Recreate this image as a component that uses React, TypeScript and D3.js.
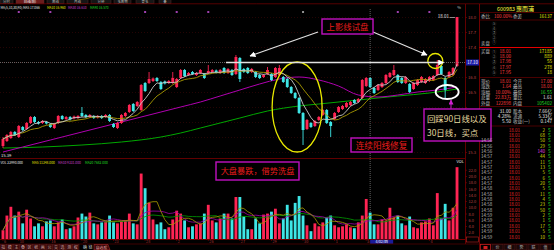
import React from "react";
import * as d3 from "d3";

const candleOpen = [15.43,15.53,15.59,15.71,15.61,15.81,15.77,15.89,16.01,15.91,
15.89,15.91,15.87,15.79,15.89,16.03,15.97,16.01,15.98,15.99,
16.09,16.05,16.01,16.03,16.00,16.03,16.01,16.05,15.87,15.79,
15.89,16.03,16.11,16.27,16.23,16.15,16.69,16.69,16.73,16.79,
16.71,16.72,16.69,16.69,16.61,16.79,16.95,16.85,16.91,16.85,
16.89,16.87,16.89,16.91,16.94,16.89,16.99,16.89,16.95,16.87,
17.19,16.97,16.99,16.91,16.91,16.85,16.81,16.87,16.87,16.81,
16.85,16.81,16.77,16.61,16.49,16.39,16.09,15.77,15.89,15.83,
15.95,16.05,16.15,15.91,15.97,16.11,16.17,16.21,16.25,16.35,
16.31,16.39,16.63,16.79,16.59,16.55,16.61,16.69,16.81,16.85,
16.85,16.79,16.69,16.67,16.57,16.65,16.71,16.69,16.73,16.75,
16.85,17.03,16.79,16.81,16.85,17.03];
const candleHigh = [15.61,15.67,15.73,15.73,15.85,15.83,15.91,16.03,16.03,15.93,
15.95,15.93,15.89,15.89,16.05,16.05,16.03,16.03,16.04,16.05,
16.21,16.07,16.07,16.05,16.05,16.05,16.07,16.07,15.89,15.91,
16.07,16.11,16.27,16.29,16.33,16.67,16.71,16.91,16.80,16.81,
16.73,16.74,16.75,16.91,16.79,16.97,16.97,16.91,16.93,16.91,
16.97,16.89,17.05,16.97,16.96,16.97,17.01,16.99,16.97,17.25,
17.21,16.99,17.01,16.99,16.93,16.87,16.87,17.01,16.89,17.01,
17.05,16.83,16.79,16.63,16.51,16.41,16.11,15.97,15.91,15.95,
16.03,16.17,16.17,15.93,16.11,16.23,16.25,16.31,16.33,16.37,
16.39,16.77,16.81,16.81,16.61,16.67,16.71,16.87,16.91,17.05,
16.87,16.81,16.83,16.69,16.71,16.77,16.83,16.79,16.83,16.85,
17.15,17.05,16.81,16.93,17.01,18.01];
const candleLow = [15.39,15.51,15.57,15.63,15.59,15.73,15.75,15.87,15.89,15.86,
15.87,15.86,15.79,15.77,15.87,15.95,15.95,15.94,15.96,15.97,
16.01,15.99,15.99,15.97,15.98,15.97,15.99,15.91,15.79,15.77,
15.87,16.01,16.09,16.11,16.21,16.13,16.51,16.67,16.71,16.71,
16.55,16.66,16.67,16.67,16.59,16.77,16.81,16.83,16.85,16.83,
16.87,16.77,16.87,16.89,16.88,16.87,16.87,16.87,16.83,16.85,
16.71,16.89,16.87,16.89,16.79,16.77,16.79,16.85,16.73,16.79,
16.83,16.69,16.59,16.47,16.37,16.07,15.45,15.75,15.79,15.81,
15.93,16.03,15.87,15.61,15.95,16.09,16.15,16.19,16.23,16.27,
16.29,16.37,16.61,16.59,16.47,16.53,16.59,16.67,16.79,16.83,
16.69,16.67,16.67,16.49,16.55,16.63,16.69,16.67,16.71,16.73,
16.83,16.85,16.39,16.79,16.83,17.01];
const candleClose = [15.57,15.65,15.71,15.65,15.83,15.75,15.89,16.01,15.91,15.88,
15.93,15.88,15.81,15.87,16.03,15.97,16.01,15.96,16.02,16.03,
16.03,16.01,16.05,15.99,16.03,15.99,16.05,15.93,15.81,15.89,
16.05,16.09,16.25,16.13,16.31,16.65,16.53,16.77,16.78,16.73,
16.57,16.68,16.73,16.79,16.77,16.95,16.83,16.89,16.87,16.89,
16.95,16.79,16.93,16.95,16.90,16.95,16.89,16.97,16.85,17.21,
16.77,16.91,16.89,16.97,16.81,16.79,16.85,16.95,16.75,16.99,
16.99,16.71,16.61,16.49,16.39,16.09,15.75,15.95,15.81,15.93,
16.01,16.15,15.89,15.83,16.09,16.21,16.23,16.29,16.31,16.29,
16.37,16.75,16.79,16.61,16.49,16.65,16.69,16.85,16.89,16.95,
16.71,16.69,16.81,16.51,16.69,16.75,16.81,16.77,16.81,16.83,
17.05,16.87,16.55,16.91,16.99,18.01];
const volumes = [2810,7500,10310,7500,8750,5000,9380,6560,4060,5000,
4060,5630,5940,4060,5310,6250,3130,3440,4060,6880,
8130,7190,8440,5000,4690,5310,5630,7500,5310,5000,
5630,5940,8130,5000,4690,20940,16250,11560,6250,4690,
5310,3130,3750,6250,9060,8130,5940,3750,4060,4690,
5000,8130,10940,5940,5310,6560,8130,8130,6560,13440,
13440,7190,3130,3130,6560,5000,7810,8130,8750,9690,
5000,6560,10940,5940,11560,13750,7500,4380,2500,5000,
4060,5310,6880,7500,4380,3750,4060,4690,3750,3440,
5310,7500,12810,8440,4690,4690,6250,5940,10000,6880,
7500,5000,4380,7190,3750,3440,5310,5630,6560,4380,
14690,6560,11250,5940,10000,22990];

const ma30Index = [0,5,12,20,30,40,45,50,55,60,65,70,75,80,85,90,95,100,105,110,115];
const ma30Value = [15.31,15.41,15.55,15.71,15.91,16.11,16.21,16.31,16.43,16.55,16.67,16.77,16.81,16.75,16.63,16.45,16.41,16.45,16.51,16.55,16.61];
const ma90Index = [0,10,20,30,40,45,50,55,60,67,75,80,90,100,108,115];
const ma90Value = [15.39,15.41,15.45,15.51,15.61,15.69,15.79,15.89,15.99,16.13,16.23,16.27,16.35,16.43,16.49,16.57];

const priceTicks = [15.3,15.6,15.9,16.2,16.5,16.8,17.1,17.4,17.7,18.0];
const volTicks = [2000,4000,6000,8000,10000,12000,14000,16000,18000,20000,22000];
const dateIndex = [0,4,12,20,28,36,44,52,60,68,76,84,92,108];
const dateLabels = ["6","10","16","20","23","28","2","26","27","29","30","1","5","4"];
const markerIndex = [4,12,36,44,52,76,100,108];
const cursorIndex = 93;
const cursorPrice = 17.10;
const cursorDate = "4/02/四";

const topTabs = ["分时","日线(前)","周线","月线","分钟","多周期","更多","叠"];
const bottomTabs = ["指","模","主","叠","区","统","画","公","交","选","测","权"];

const buyPrices = ["18.01","18.00","17.98","17.97","17.95"];
const buyVols = ["17185","889","55","278","18"];
const statLabelsA = ["现价","涨跌","涨幅","总量","外盘"];
const statValuesA = ["18.01","1.64","10.00%","22.83万","122898"];
const statLabelsB = ["今开","最高","最低","量比","内盘"];
const statValuesB = ["17.00","18.01","16.55","1.61","105402"];
const infoValuesA = ["31.00","4.28%","5.50"];
const infoLabelsB = ["股本","流通","收益(一)"];
const infoValuesB = ["7.66亿","5.33亿","0.147"];
const tickTimes = ["14:56","14:56","14:56","14:56","14:56","14:57","14:57","14:57","14:57","14:57","14:57","14:58","14:58","14:58","14:58","14:58","14:59","14:59","14:59","14:59","14:59"];
const tickVols = [2,68,50,29,140,44,11,13,5,6,20,5,11,4,23,50,2,1,17,5,10];
const tickPrice = "18.01";

const FONT = "'Noto Sans CJK SC','Noto Sans',sans-serif";
const UP = "#ff2453";
const DOWN = "#3ee6e6";
const RED = "#ff3c3c";
const GRAY = "#bdbdbd";
const YEL = "#e6e600";
const GRN = "#22dd22";
const WHT = "#e8e8e8";

function movingAvg(arr: number[], n: number) {
  return arr.map((_, i) => d3.mean(arr.slice(Math.max(0, i - n + 1), i + 1)) as number);
}

function T(props: any) {
  const { x, y, c, s = 4.8, a = "start", children, w } = props;
  return (
    <text x={x} y={y} fill={c} fontSize={s} textAnchor={a} fontFamily={FONT} fontWeight={w}>
      {children}
    </text>
  );
}

export default function App() {
  const N = candleClose.length;
  const x = d3.scaleBand<number>().domain(d3.range(N)).range([1, 459]).paddingInner(0.28).paddingOuter(0.14);
  const bw = x.bandwidth();
  const cx = (i: number) => (x(i) as number) + bw / 2;
  const xAt = (i: number) => 1 + x.step() * (i + 0.5);
  const y = d3.scaleLinear().domain([15.3, 18.0]).range([152.5, 17.5]);
  const yv = d3.scaleLinear().domain([0, 24000]).range([239, 164]);

  const isUp = candleClose.map((c, i) => c >= candleOpen[i]);
  const ma5 = movingAvg(candleClose, 5);
  const ma10 = movingAvg(candleClose, 10);
  const vma5 = movingAvg(volumes, 5);
  const vma10 = movingAvg(volumes, 10);
  const vma20 = movingAvg(volumes, 20);

  const priceLine = d3.line<number>().x((_, i) => cx(i)).y((v) => y(v));
  const volLine = d3.line<number>().x((_, i) => cx(i)).y((v) => yv(v));
  const sampleLine = (idx: number[]) =>
    d3.line<number>().x((_, k) => cx(idx[k])).y((v) => y(v)).curve(d3.curveMonotoneX);

  const fmt3 = d3.format(".3f");
  const crossY = y(cursorPrice);
  const hiIdx = d3.maxIndex(candleHigh);
  const loIdx = d3.minIndex(candleLow);

  const circled = ["①", "②", "③", "④", "⑤"];
  const boxTop = 109, boxBottom = 141;
  const shownPriceTicks = priceTicks.filter((t) => {
    const yy = y(t);
    return Math.abs(yy - crossY) > 5 && !(yy > boxTop - 3 && yy < boxBottom + 3);
  });

  return (
    <svg width={554} height={250} style={{ position: "absolute", left: 0, top: 0, display: "block" }}>
      <defs>
        <clipPath id="pc"><rect x={0} y={9} width={465} height={148} /></clipPath>
        <clipPath id="vc"><rect x={0} y={164} width={465} height={75} /></clipPath>
        <marker id="aw" viewBox="0 0 10 10" refX="9" refY="5" markerWidth="6" markerHeight="6" orient="auto" markerUnits="userSpaceOnUse">
          <path d="M0,0L10,5L0,10z" fill="#ffffff" />
        </marker>
        <marker id="ap" viewBox="0 0 10 10" refX="9" refY="5" markerWidth="5" markerHeight="5" orient="auto" markerUnits="userSpaceOnUse">
          <path d="M0,0L10,5L0,10z" fill="#d020d0" />
        </marker>
      </defs>
      <rect x={0} y={0} width={554} height={250} fill="#000" />

      {/* top tabs */}
      {topTabs.map((t, k) => {
        const xs = [0, 16, 47, 67, 91, 114, 136, 159];
        const ws = [13, 28, 17, 21, 20, 17, 18, 12];
        return (
          <g key={"tt" + k}>
            <rect x={xs[k]} y={-3} width={ws[k]} height={6.5} fill={k === 1 ? "#6b1c1c" : "#161616"} stroke="#5a2a2a" strokeWidth={0.5} />
            <T x={xs[k] + ws[k] / 2} y={3.2} c={k === 1 ? "#ffffff" : "#bbbbbb"} s={3.4} a="middle">{t}</T>
          </g>
        );
      })}
      <line x1={0} x2={554} y1={3.8} y2={3.8} stroke="#7a0000" strokeWidth={0.7} />

      {/* MA header */}
      <T x={0.5} y={8.6} c={WHT} s={3.2}>{"MA(5,10,30,90) MA5 " + fmt3(ma5[N - 1])}</T>
      <T x={47} y={8.6} c={YEL} s={3.2}>{"MA10 " + fmt3(ma10[N - 1])}</T>
      <T x={68} y={8.6} c="#d040d0" s={3.2}>{"MA30 " + fmt3(ma30Value[ma30Value.length - 1])}</T>
      <T x={90} y={8.6} c={GRN} s={3.2}>{"MA90 " + fmt3(ma90Value[ma90Value.length - 1])}</T>
      <T x={461} y={8.6} c={GRAY} s={4} a="end">%</T>

      {/* grid */}
      {priceTicks.map((t) => (
        <line key={"g" + t} x1={0} x2={465} y1={y(t)} y2={y(t)} stroke="#3e0707" strokeWidth={0.6} strokeDasharray="1 2" />
      ))}

      {/* event markers */}
      {markerIndex.map((i, k) => (
        <rect key={"m" + k} x={cx(i) - 1} y={11} width={2} height={2} fill={i === 76 ? "#909090" : "#a040b0"} />
      ))}

      {/* price panel */}
      <g clipPath="url(#pc)">
        <path d={sampleLine(ma90Index)(ma90Value) || ""} fill="none" stroke="#00a800" strokeWidth={1} />
        <path d={sampleLine(ma30Index)(ma30Value) || ""} fill="none" stroke="#b000b0" strokeWidth={1} />
        {candleClose.map((c, i) => {
          const o = candleOpen[i];
          const col = isUp[i] ? UP : DOWN;
          const top = y(Math.max(o, c));
          const h = Math.max(1, y(Math.min(o, c)) - top);
          return (
            <g key={"c" + i}>
              <line x1={cx(i)} x2={cx(i)} y1={y(candleHigh[i])} y2={y(candleLow[i])} stroke={col} strokeWidth={0.9} />
              <rect x={x(i)} y={top} width={bw} height={h} fill={col} />
            </g>
          );
        })}
        <path d={priceLine(ma10) || ""} fill="none" stroke="#a89a00" strokeWidth={0.9} />
        <path d={priceLine(ma5) || ""} fill="none" stroke="#c8c8c8" strokeWidth={0.9} />
      </g>

      {/* high / low labels */}
      <T x={cx(hiIdx) - 8} y={17.8} c={WHT} s={4.5} a="end">{candleHigh[hiIdx].toFixed(2)}</T>
      <line x1={cx(hiIdx) - 7.5} x2={cx(hiIdx) - 2} y1={y(candleHigh[hiIdx]) + 0.5} y2={y(candleHigh[hiIdx]) + 0.5} stroke={WHT} strokeWidth={0.6} />
      <T x={cx(loIdx) - 2} y={156.5} c={WHT} s={4.2}>{candleLow[loIdx].toFixed(2)}</T>

      {/* cursor */}
      <line x1={0} x2={465} y1={crossY} y2={crossY} stroke="#8a8a8a" strokeWidth={0.7} strokeDasharray="1 1" />
      <line x1={cx(cursorIndex)} x2={cx(cursorIndex)} y1={9} y2={239} stroke="#8a8a8a" strokeWidth={0.7} strokeDasharray="1 1" />

      {/* separator */}
      <line x1={0} x2={465} y1={158.5} y2={158.5} stroke="#7a0000" strokeWidth={0.8} />

      {/* volume header */}
      <T x={0.5} y={163.5} c={WHT} s={3.3}>{"VOL " + d3.format(".3f")(volumes[N - 1])}</T>
      <T x={32} y={163.5} c={YEL} s={3.3}>{"MA5 " + d3.format(".3f")(vma5[N - 1])}</T>
      <T x={58} y={163.5} c="#d040d0" s={3.3}>{"MA10 " + d3.format(".3f")(vma10[N - 1])}</T>
      <T x={85} y={163.5} c={GRN} s={3.3}>{"MA20 " + d3.format(".3f")(vma20[N - 1])}</T>
      <T x={464} y={163} c={WHT} s={4} a="end">VOL</T>

      {/* volume bars */}
      <g clipPath="url(#vc)">
        {volumes.map((v, i) => (
          <rect key={"v" + i} x={x(i)} y={yv(v)} width={bw} height={yv(0) - yv(v)} fill={isUp[i] ? UP : DOWN} />
        ))}
        <path d={volLine(vma20) || ""} fill="none" stroke="#00a000" strokeWidth={0.8} />
        <path d={volLine(vma10) || ""} fill="none" stroke="#a000a8" strokeWidth={0.8} />
        <path d={volLine(vma5) || ""} fill="none" stroke="#a89a00" strokeWidth={0.8} />
      </g>

      {/* date axis */}
      <line x1={0} x2={465} y1={239.5} y2={239.5} stroke="#8a0000" strokeWidth={0.8} />
      {dateIndex.map((i, k) => (
        <g key={"d" + k}>
          <line x1={cx(i)} x2={cx(i)} y1={239.5} y2={241} stroke="#8a0000" strokeWidth={0.6} />
          <T x={cx(i) + 1} y={243.2} c="#a83030" s={3.8}>{dateLabels[k]}</T>
        </g>
      ))}
      <rect x={cx(cursorIndex)} y={239.8} width={23} height={4} fill="#1a1a9a" />
      <T x={cx(cursorIndex) + 11.5} y={243.2} c="#ffffff" s={3.6} a="middle">{cursorDate}</T>

      {/* right axis */}
      <line x1={465.5} x2={465.5} y1={4} y2={244} stroke="#7a0000" strokeWidth={0.8} />
      <line x1={479.5} x2={479.5} y1={4} y2={250} stroke="#8a0000" strokeWidth={0.8} />
      {priceTicks.map((t) => (
        <line key={"ptl" + t} x1={465.5} x2={467} y1={y(t)} y2={y(t)} stroke="#8a0000" strokeWidth={0.6} />
      ))}
      {shownPriceTicks.map((t) => (
        <T key={"pt" + t} x={468} y={y(t) + 1.5} c="#b84444" s={4.2}>{t.toFixed(1)}</T>
      ))}
      {volTicks.map((t) => (
        <g key={"vt" + t}>
          <line x1={465.5} x2={467} y1={yv(t)} y2={yv(t)} stroke="#8a0000" strokeWidth={0.6} />
          <T x={468.5} y={yv(t) + 1.5} c="#b84444" s={4}>{(t / 1000).toFixed(1)}</T>
        </g>
      ))}
      <rect x={466} y={crossY - 3} width={13} height={6} fill="#1c1caa" />
      <T x={472.5} y={crossY + 1.6} c="#ffffff" s={4.3} a="middle">{cursorPrice.toFixed(2)}</T>
      <rect x={466.5} y={237} width={12} height={5} fill="none" stroke="#c02020" strokeWidth={0.6} />

      {/* annotations */}
      <ellipse cx={xAt(74.5)} cy={y(16.21)} rx={25} ry={45} fill="none" stroke="#e8e800" strokeWidth={1.3} />
      <circle cx={xAt(109.5)} cy={y(17.13)} r={7.5} fill="none" stroke="#e8e800" strokeWidth={1.3} />
      <ellipse cx={xAt(112.5)} cy={y(16.51)} rx={11.5} ry={7} fill="none" stroke="#ffffff" strokeWidth={1.8} />
      <line x1={xAt(56.5)} x2={xAt(111.6)} y1={crossY} y2={crossY} stroke="#e0e0e0" strokeWidth={1.4} markerEnd="url(#aw)" />
      <line x1={318} y1={32} x2={250} y2={56} stroke="#e0e0e0" strokeWidth={1.2} markerEnd="url(#aw)" />
      <line x1={373} y1={32} x2={427} y2={55} stroke="#e0e0e0" strokeWidth={1.2} markerEnd="url(#aw)" />
      <line x1={451} y1={109} x2={451} y2={100} stroke="#d020d0" strokeWidth={1} markerEnd="url(#ap)" />

      <rect x={322} y={19} width={51} height={15} fill="#000" stroke="#c010c0" strokeWidth={1.4} />
      <T x={347.5} y={30.3} c="#e81c1c" s={8.4} a="middle">上影线试盘</T>
      <rect x={351} y={138} width={61} height={14} fill="#000" stroke="#c010c0" strokeWidth={1.4} />
      <T x={381.5} y={148.6} c="#e81c1c" s={8.6} a="middle">连续阳线修复</T>
      <rect x={216} y={162} width={83} height={18} fill="#000" stroke="#c010c0" strokeWidth={1.4} />
      <T x={257.5} y={174.3} c="#e81c1c" s={8.2} a="middle">大盘暴跌，借势洗盘</T>

      {/* right panel */}
      <T x={497} y={10.6} c="#ffff40" s={5.4}>600983</T>
      <T x={516} y={10.8} c="#ffff40" s={6}>惠而浦</T>
      <line x1={479.5} x2={554} y1={12.5} y2={12.5} stroke="#6a0000" strokeWidth={0.7} />
      <T x={481} y={18} c={GRAY} s={4.6}>委比</T>
      <T x={494} y={18} c={RED} s={4.6}>100.00%</T>
      <T x={513} y={18} c={GRAY} s={4.6}>委差</T>
      <T x={552} y={18} c={YEL} s={4.6} a="end">16137</T>
      <line x1={479.5} x2={554} y1={20} y2={20} stroke="#6a0000" strokeWidth={0.7} />
      {circled.map((c, k) => (
        <T key={"s" + k} x={494} y={25 + 4.5 * k} c="#8a8a8a" s={4.2} a="middle">{circled[4 - k]}</T>
      ))}
      <T x={481} y={45} c={GRAY} s={4.4}>卖盘</T>
      <line x1={479.5} x2={554} y1={47.5} y2={47.5} stroke="#ff0000" strokeWidth={0.9} />
      <T x={481} y={52.5} c={GRAY} s={4.4}>买盘</T>
      {buyPrices.map((p, k) => (
        <g key={"b" + k}>
          <T x={494} y={52.5 + 5.4 * k} c="#8a8a8a" s={4.2} a="middle">{circled[k]}</T>
          <T x={511} y={52.5 + 5.4 * k} c={RED} s={4.6} a="end">{p}</T>
          <T x={552} y={52.5 + 5.4 * k} c={YEL} s={4.6} a="end">{buyVols[k]}</T>
        </g>
      ))}
      <line x1={479.5} x2={554} y1={77.5} y2={77.5} stroke="#6a0000" strokeWidth={0.7} />
      {statLabelsA.map((l, k) => {
        const yy = 83 + 5.4 * k;
        const cB = k === 2 || k === 4 ? GRN : k === 3 ? WHT : RED;
        return (
          <g key={"st" + k}>
            <T x={481} y={yy} c={GRAY} s={4.6}>{l}</T>
            <T x={511} y={yy} c={RED} s={4.6} a="end">{statValuesA[k]}</T>
            <T x={513} y={yy} c={GRAY} s={4.6}>{statLabelsB[k]}</T>
            <T x={552} y={yy} c={cB} s={4.6} a="end">{statValuesB[k]}</T>
          </g>
        );
      })}
      <line x1={479.5} x2={554} y1={106.5} y2={106.5} stroke="#6a0000" strokeWidth={0.7} />
      {infoValuesA.map((v, k) => {
        const yy = 112.5 + 5.4 * k;
        return (
          <g key={"in" + k}>
            <T x={511} y={yy} c={WHT} s={4.6} a="end">{v}</T>
            <T x={513} y={yy} c={GRAY} s={4.6}>{infoLabelsB[k]}</T>
            <T x={552} y={yy} c={WHT} s={4.6} a="end">{infoValuesB[k]}</T>
          </g>
        );
      })}
      <line x1={479.5} x2={554} y1={126} y2={126} stroke="#6a0000" strokeWidth={0.7} />

      {/* buy-point box (over chart and panel) */}
      <rect x={424} y={boxTop} width={67} height={boxBottom - boxTop} fill="#000" stroke="#c010c0" strokeWidth={1.4} />
      <T x={427} y={122.3} c="#e8dca0" s={8.4}>回踩90日线以及</T>
      <T x={427} y={136} c="#e8dca0" s={8.4}>30日线，买点</T>

      {/* tick list */}
      {tickTimes.map((t, k) => {
        const yy = 131.5 + 5.35 * k;
        return (
          <g key={"tk" + k}>
            {yy > boxBottom + 1 ? <T x={481} y={yy} c={GRAY} s={4.5}>{t}</T> : null}
            <T x={520} y={yy} c="#e02828" s={4.5} a="end">{tickPrice}</T>
            <T x={545} y={yy} c={tickVols[k] >= 100 ? "#e040e0" : "#d8d800"} s={4.5} a="end">{String(tickVols[k])}</T>
            <T x={548} y={yy} c={GRN} s={4.5}>S</T>
          </g>
        );
      })}

      {/* bottom tabs */}
      <line x1={0} x2={554} y1={244} y2={244} stroke="#5a0000" strokeWidth={0.7} />
      {bottomTabs.map((t, k) => (
        <g key={"bt" + k}>
          <rect x={k * 6.6} y={244.5} width={6.4} height={6} fill="#3a0c0c" stroke="#6a2020" strokeWidth={0.4} />
          <T x={k * 6.6 + 3.2} y={249.3} c="#c8a0a0" s={4} a="middle">{t}</T>
        </g>
      ))}
      <T x={83} y={249.3} c="#c8c8c8" s={4}>确</T>
      <T x={88.5} y={249.3} c="#c8c8c8" s={4}>链</T>
      <path d="M94,244.5 L108,244.5 L110,250 L94,250 Z" fill="#3a0a0a" stroke="#c03030" strokeWidth={0.5} />
      <T x={101.5} y={249.3} c="#e0a0a0" s={3.8} a="middle">自选股</T>
      <rect x={480.5} y={244.5} width={10} height={5.5} fill="none" stroke="#d02020" strokeWidth={0.7} />
      <rect x={483.5} y={246} width={4} height={3} fill="#d02020" />
      {["价", "细", "势", "联", "值"].map((t, k) => (
        <g key={"rt" + k}>
          <rect x={492 + k * 12} y={244.5} width={11} height={5.5} fill="#1a0808" stroke="#5a1a1a" strokeWidth={0.5} />
          <T x={497.5 + k * 12} y={249.3} c="#b0b0b0" s={4} a="middle">{t}</T>
        </g>
      ))}
    </svg>
  );
}
